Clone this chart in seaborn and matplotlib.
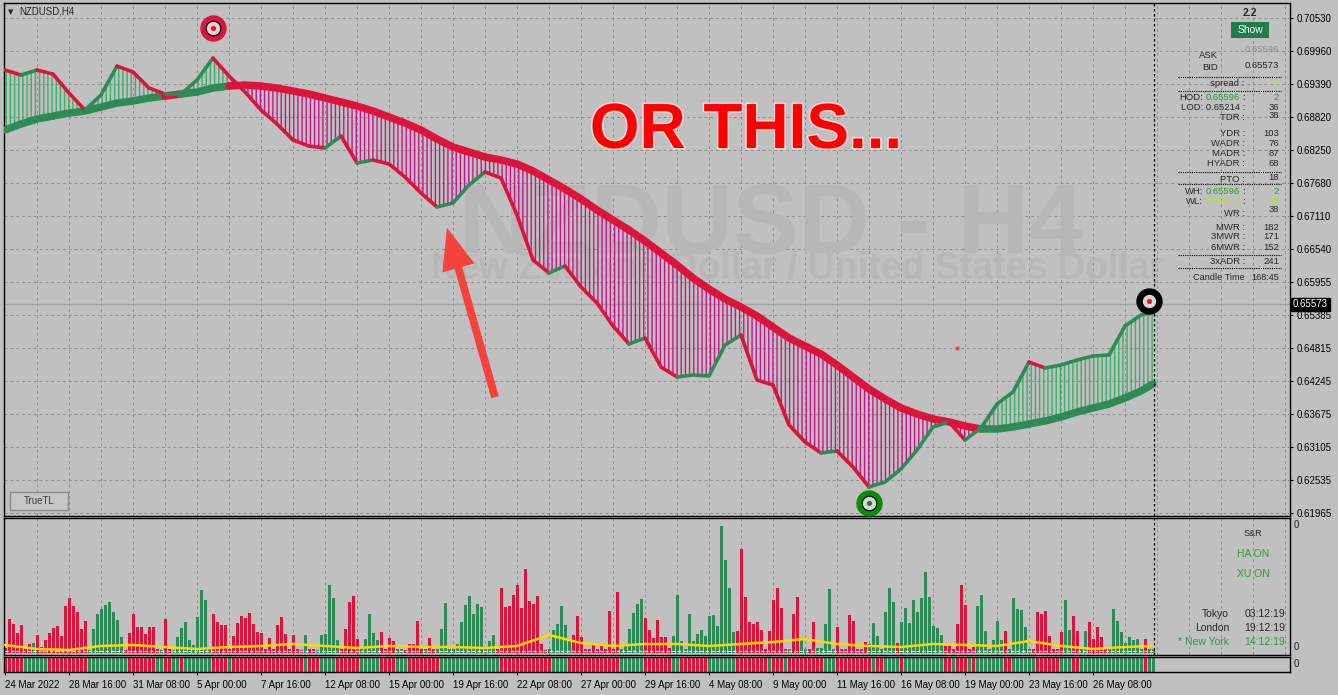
import numpy as np
import pandas as pd
import matplotlib
matplotlib.use("Agg")
import matplotlib.pyplot as plt
import matplotlib.patheffects as pe
from matplotlib.patches import Rectangle
from matplotlib.lines import Line2D
import seaborn as sns

# ---------------- data ----------------
symbol = "NZDUSD,H4"
bid = 0.65573

date_labels = ["24 Mar 2022", "28 Mar 16:00", "31 Mar 08:00", "5 Apr 00:00", "7 Apr 16:00",
               "12 Apr 08:00", "15 Apr 00:00", "19 Apr 16:00", "22 Apr 08:00", "27 Apr 00:00",
               "29 Apr 16:00", "4 May 08:00", "9 May 00:00", "11 May 16:00", "16 May 08:00",
               "19 May 00:00", "23 May 16:00", "26 May 08:00"]
date_bars = [0, 16, 32, 48, 64, 80, 96, 112, 128, 144, 160, 176, 192, 208, 224, 240, 256, 272]

price_ticks = [0.70530, 0.69960, 0.69390, 0.68820, 0.68250, 0.67680, 0.67110, 0.66540,
               0.65955, 0.65385, 0.64815, 0.64245, 0.63675, 0.63105, 0.62535, 0.61965]

# bar index of the line samples
line_bar = list(range(0, 288, 4)) + [287]

# fast (smoothed) line
fast = [0.69630, 0.69544, 0.69630, 0.69561, 0.69232, 0.68938, 0.69198, 0.69699, 0.69596, 0.69319,
        0.69215, 0.69215, 0.69457, 0.69838, 0.69526, 0.69250, 0.68938, 0.68696, 0.68419, 0.68315,
        0.68281, 0.68488, 0.68021, 0.68073, 0.68004, 0.67779, 0.67502, 0.67260, 0.67329, 0.67640,
        0.67865, 0.67762, 0.67121, 0.66343, 0.66118, 0.66239, 0.65876, 0.65599, 0.65201, 0.64889,
        0.64993, 0.64491, 0.64318, 0.64353, 0.64336, 0.64872, 0.65045, 0.64266, 0.64180, 0.63488,
        0.63194, 0.63003, 0.63038, 0.62761, 0.62415, 0.62501, 0.62726, 0.63055, 0.63453, 0.63540,
        0.63228, 0.63436, 0.63851, 0.64059, 0.64578, 0.64474, 0.64526, 0.64612, 0.64682, 0.64699,
        0.65201, 0.65391, 0.65443]
fast_col = ("rgrrrggrrr" "gggrrrrrrr" "grgrrrrggg" "rrrrgrrrrg" "rrggggrrrr"
            "rgrrgggggr" "ggggrggggg" "gg")

# slow (trend) line
slow = [0.68592, 0.68696, 0.68782, 0.68834, 0.68886, 0.68921, 0.68990, 0.69059, 0.69094, 0.69146,
        0.69180, 0.69215, 0.69250, 0.69319, 0.69353, 0.69371, 0.69353, 0.69319, 0.69267, 0.69215,
        0.69146, 0.69077, 0.69007, 0.68921, 0.68817, 0.68713, 0.68592, 0.68436, 0.68298, 0.68211,
        0.68125, 0.68073, 0.68004, 0.67883, 0.67727, 0.67571, 0.67398, 0.67208, 0.67035, 0.66862,
        0.66671, 0.66464, 0.66256, 0.66031, 0.65841, 0.65668, 0.65529, 0.65374, 0.65183, 0.64993,
        0.64855, 0.64716, 0.64526, 0.64318, 0.64111, 0.63938, 0.63782, 0.63678, 0.63592, 0.63540,
        0.63470, 0.63419, 0.63419, 0.63453, 0.63505, 0.63557, 0.63626, 0.63713, 0.63782, 0.63851,
        0.63955, 0.64076, 0.64197]
slow_col = ("gggggggggg" "rgggrrrrrr" "rrrrrrrrrr" "rrrrrrrrrr" "rrrrrrrrrr"
            "rrrrrrrrrr" "rggggggggg" "gg")

# signals
sig_bar = [52, 216, 286]
sig_price = [0.7036, 0.6214, 0.6563]
sig_ring = ["#dc143c", "#0a8a0a", "#000000"]
sig_dot = ["#ff1010", "#0a8a0a", "#ff1010"]
dot_bar, dot_price = 238, 0.6482

# volume histogram
volume = [5, 34, 29, 20, 28, 5, 9, 10, 18, 6,
          13, 20, 25, 27, 17, 47, 55, 47, 41, 24,
          32, 3, 24, 39, 44, 48, 51, 41, 33, 16,
          3, 20, 39, 26, 26, 19, 26, 26, 4, 3,
          34, 4, 3, 16, 25, 31, 13, 8, 36, 63,
          53, 4, 39, 31, 28, 28, 4, 17, 30, 37,
          35, 40, 29, 21, 20, 4, 15, 4, 28, 36,
          19, 4, 18, 4, 3, 18, 4, 4, 3, 18,
          19, 68, 55, 13, 4, 24, 51, 57, 14, 4,
          14, 39, 20, 13, 21, 4, 15, 12, 4, 4,
          3, 9, 9, 32, 4, 4, 15, 4, 4, 24,
          50, 4, 4, 9, 31, 48, 57, 39, 49, 46,
          4, 12, 18, 4, 65, 46, 47, 58, 68, 45,
          84, 52, 49, 57, 9, 3, 4, 23, 29, 47,
          28, 13, 18, 37, 16, 4, 4, 9, 4, 9,
          4, 42, 4, 61, 4, 9, 24, 40, 49, 54,
          35, 23, 15, 33, 16, 16, 5, 17, 58, 12,
          4, 39, 12, 19, 23, 17, 37, 38, 27, 127,
          93, 65, 21, 22, 104, 56, 31, 29, 31, 23,
          4, 22, 53, 65, 45, 4, 4, 39, 56, 15,
          4, 4, 31, 5, 5, 29, 64, 4, 26, 4,
          4, 38, 32, 4, 4, 11, 9, 30, 17, 4,
          41, 65, 51, 10, 31, 45, 30, 53, 41, 55,
          81, 56, 27, 25, 18, 7, 7, 4, 29, 68,
          48, 4, 6, 47, 58, 22, 4, 13, 32, 13,
          22, 4, 55, 44, 43, 26, 4, 4, 41, 39,
          42, 17, 4, 4, 21, 53, 23, 37, 22, 4,
          22, 31, 14, 26, 16, 4, 4, 44, 32, 21,
          10, 16, 13, 14, 4, 14, 4, 4]
vol_dir = ("rrrrrrrgrr" "rrrrrrrrrr" "rggggggggg" "rrrrrrrrrg" "rrgggggggg"
           "ggrrrrrrrr" "rrrrrrrrrr" "rrrrrgrrgg" "ggggrrrrrg" "ggggrrrrgg"
           "rrrrrgrrgg" "gggggggggg" "gggrrrrrrr" "rrrrrrgggg" "ggrrrrrrrr"
           "rrrrgggggg" "rrrrrrrggg" "gggggggggg" "gggrrrrrrr" "rrrrrrgrrg"
           "grrgggggrr" "rrrrrrgggg" "gggrgggggg" "gggggrrrrr" "rrrggggggg"
           "rggggggrrr" "rrrrrggrrg" "grrrrrgggg" "gggggrgg")

# yellow average line on the histogram
yel_bar = list(range(0, 288, 8)) + [287]
yel_val = [8, 4, 3, 7, 8, 6, 4, 6, 7, 9, 7, 5, 7, 6, 6, 5, 7, 18, 10, 7,
           9, 9, 7, 9, 11, 14, 9, 7, 6, 9, 8, 7, 12, 7, 4, 6, 7]
vol_floor = 2

# colour strip (run lengths)
strip_runs = [("r", 5), ("g", 6), ("r", 10), ("g", 10), ("r", 7), ("g", 2), ("r", 2), ("g", 2),
              ("r", 1), ("g", 7), ("r", 4), ("g", 1), ("r", 18), ("g", 1), ("r", 3), ("g", 4),
              ("r", 6), ("g", 5), ("r", 4), ("g", 3), ("r", 8), ("g", 15), ("r", 13), ("g", 4),
              ("r", 13), ("g", 6), ("r", 7), ("g", 2), ("r", 7), ("g", 7), ("r", 8), ("g", 1),
              ("r", 3), ("g", 1), ("r", 9), ("g", 3), ("r", 9), ("g", 1), ("r", 2), ("g", 4),
              ("r", 1), ("g", 10), ("r", 2), ("g", 1), ("r", 3), ("g", 1), ("r", 1), ("g", 7),
              ("r", 2), ("g", 6), ("r", 6), ("g", 3), ("r", 2), ("g", 16), ("r", 1), ("g", 2)]

# ---------------- style ----------------
W, H = 1338, 695
BG = "#c0c0c0"
RED = "#dc143c"
GREEN = "#2e8b57"
FILL_UP = "#3fae6a"
FILL_DN = "#c0168a"
GRID = "#8e8e8e"
TXT_GREEN = "#2f9a3a"

sns.set_style("white", {"axes.facecolor": BG, "figure.facecolor": BG, "axes.edgecolor": "black"})
plt.rcParams["font.family"] = ["Liberation Sans", "DejaVu Sans"]
plt.rcParams["font.size"] = 7
plt.rcParams["hatch.linewidth"] = 1.0

fig = plt.figure(figsize=(W / 100, H / 100), dpi=100)
fig.patch.set_facecolor(BG)


def box(top, bottom, left=4, right=1290):
    return [left / W, 1 - bottom / H, (right - left) / W, (bottom - top) / H]


def ftxt(px, py, s, **kw):
    kw.setdefault("va", "center")
    kw.setdefault("fontsize", 6.8)
    return fig.text(px / W, 1 - py / H, s, **kw)


ax = fig.add_axes(box(3, 516))
axv = fig.add_axes(box(518, 655))
axs = fig.add_axes(box(657, 672))
for a in (ax, axv, axs):
    a.set_facecolor(BG)
    for sp in a.spines.values():
        sp.set_color("black")
        sp.set_linewidth(1.0)
        sp.set_visible(True)

n_bars = len(volume)
last_bar = n_bars - 1
xmin, xmax = -0.25, 321.25

# ---------------- main price panel ----------------
ax.set_xlim(xmin, xmax)
ax.set_ylim(0.61913, 0.70790)
for b in range(8, 322, 8):
    for a in (ax, axv):
        a.axvline(b, color=GRID, lw=0.7, ls=(0, (3, 3)), zorder=0)
for p in price_ticks:
    ax.axhline(p, color=GRID, lw=0.7, ls=(0, (3, 3)), zorder=0)
ax.axhline(bid, color="#a2a2a2", lw=1.0, zorder=0.2)

ax.yaxis.tick_right()
ax.set_yticks(price_ticks, [f"{p:.5f}" for p in price_ticks])
ax.tick_params(axis="y", length=2.5, width=0.8, pad=2.5, labelsize=7, colors="black")
ax.set_xticks([])

# watermark
ax.text(0.597, 0.512, "NZDUSD - H4", transform=ax.transAxes, ha="center", va="baseline",
        fontsize=71, fontweight="bold", family="Liberation Sans", color="#b7b7b7", zorder=0.5)
ax.text(0.617, 0.462, "New Zealand Dollar / United States Dollar", transform=ax.transAxes,
        ha="center", va="baseline", fontsize=27, fontweight="bold", family="Liberation Sans",
        color="#b7b7b7", zorder=0.5)

xb = np.array(line_bar, dtype=float)
f = np.array(fast)
s = np.array(slow)
ax.fill_between(xb, f, s, where=f >= s, interpolate=True, facecolor="none",
                edgecolor=FILL_UP, hatch="||||", linewidth=0, zorder=1)
ax.fill_between(xb, f, s, where=f < s, interpolate=True, facecolor="none",
                edgecolor=FILL_DN, hatch="||||", linewidth=0, zorder=1)

cmap = {"r": RED, "g": GREEN}


def draw_runs(ys, cols, lw, z):
    start = 0
    for k in range(1, len(cols) + 1):
        if k == len(cols) or cols[k] != cols[start]:
            ax.plot(xb[start:k + 1], ys[start:k + 1], color=cmap[cols[start]], lw=lw,
                    solid_capstyle="round", solid_joinstyle="round", zorder=z)
            start = k


draw_runs(s, slow_col, 5.4, 3)
draw_runs(f, fast_col, 2.6, 4)

# signal targets
for b, p, rc, dc in zip(sig_bar, sig_price, sig_ring, sig_dot):
    ax.scatter([b], [p], s=360, color=rc, zorder=6, linewidths=0)
    ax.scatter([b], [p], s=110, color="#d6d6d6", edgecolors="black", linewidths=0.8, zorder=7)
    ax.scatter([b], [p], s=14, color=dc, zorder=8, linewidths=0)
ax.scatter([dot_bar], [dot_price], s=9, color="#ff3b3b", zorder=6, linewidths=0)

# annotation arrow
ax.annotate("", xy=(110.5, 0.6690), xytext=(122.5, 0.6397),
            arrowprops=dict(arrowstyle="simple,head_length=1.5,head_width=1.2,tail_width=0.28",
                            mutation_scale=20, color="#f4433a", lw=0, shrinkA=0, shrinkB=0),
            zorder=9)

# big caption
ftxt(746, 148, "OR THIS...", ha="center", va="baseline", fontsize=46, fontweight="bold",
     family="Liberation Sans", color="#ff0000",
     path_effects=[pe.withStroke(linewidth=2.2, foreground="#ffd6d6")], zorder=10)

# current price box
ax.annotate(f"{bid:.5f}", xy=(1.0, bid), xycoords=("axes fraction", "data"),
            xytext=(2.0, 0), textcoords="offset points", ha="left", va="center",
            fontsize=7, color="white",
            bbox=dict(boxstyle="square,pad=0.18", facecolor="black", edgecolor="black"),
            annotation_clip=False, zorder=10)

# symbol label
ftxt(11, 12, "\u25bc", ha="center", fontsize=5, family="DejaVu Sans")
ftxt(19, 12, symbol, ha="left", fontsize=7)

# TrueTL button
fig.add_artist(Rectangle((10 / W, 1 - 510 / H), 58 / W, 18 / H, transform=fig.transFigure,
                         facecolor="#c6c6c6", edgecolor="#8a8a8a", lw=1))
ftxt(39, 501, "TrueTL", ha="center", color="#3a3a3a", fontsize=7)

# info panel
ftxt(1250, 13, "2.2", ha="center", fontsize=7.5, fontweight="bold")
fig.add_artist(Rectangle((1231 / W, 1 - 38 / H), 38 / W, 16 / H, transform=fig.transFigure,
                         facecolor="#1f7c4c", edgecolor="none"))
ftxt(1250, 30, "Show", ha="center", color="white", fontsize=7.5)

ftxt(1218, 55, "ASK", ha="right")
ftxt(1279, 50, "0.65596", ha="right", color="#8c8c8c")
ftxt(1218, 68, "BID", ha="right")
ftxt(1279, 65, "0.65573", ha="right")
for yy in (77, 91, 172, 184, 255, 268):
    fig.add_artist(Line2D([1178 / W, 1281 / W], [1 - yy / H] * 2, color="black", lw=0.8,
                          ls=(0, (1, 1)), transform=fig.transFigure))
ftxt(1244, 83, "spread :", ha="right")
ftxt(1279, 83, "2.3", ha="right", color="#b4f03a")
ftxt(1203, 98, "HOD:", ha="right")
ftxt(1240, 98, "0.65596", ha="right", color=TXT_GREEN)
ftxt(1245, 98, ":", ha="right")
ftxt(1279, 98, "2", ha="right", color=TXT_GREEN)
ftxt(1245, 107, "LOD: 0.65214 :", ha="right")
ftxt(1279, 107, "36", ha="right")
rows = [("TDR :", 118, "38", 115), ("YDR :", 133, "103", 133), ("WADR :", 143, "76", 143),
        ("MADR :", 154, "87", 154), ("HYADR :", 164, "68", 164), ("PTO :", 179, "18", 178),
        ("WR :", 213, "38", 210), ("MWR :", 227, "182", 227), ("3MWR :", 237, "171", 237),
        ("6MWR :", 247, "152", 247), ("3xADR :", 261, "241", 261)]
for lab, ly, val, vy in rows:
    ftxt(1245, ly, lab, ha="right")
    ftxt(1279, vy, val, ha="right")
ftxt(1203, 192, "WH:", ha="right")
ftxt(1240, 192, "0.65596", ha="right", color=TXT_GREEN)
ftxt(1245, 192, ":", ha="right")
ftxt(1279, 191, "2", ha="right", color=TXT_GREEN)
ftxt(1203, 202, "WL:", ha="right")
ftxt(1240, 202, "0.65214", ha="right", color="#a6ea2e")
ftxt(1245, 202, ":", ha="right")
ftxt(1279, 201, "36", ha="right", color="#a6ea2e")
ftxt(1193, 278, "Candle Time", ha="left", fontsize=6.6)
ftxt(1279, 278, "168:45", ha="right", fontsize=6.6)

# ---------------- volume histogram ----------------
vol_df = pd.DataFrame({"bar": np.arange(n_bars), "vol": volume, "dir": list(vol_dir)})
sns.barplot(data=vol_df, x="bar", y="vol", hue="dir", palette=cmap, native_scale=True,
            dodge=False, width=0.75, saturation=1, errorbar=None, legend=False,
            linewidth=0, ax=axv, zorder=2)
axv.hlines(vol_floor, 0, last_bar, colors="white", lw=0.8, linestyles=(0, (3, 2)), zorder=3)
sns.lineplot(x=yel_bar, y=yel_val, color="#ffd700", lw=1.8, ax=axv, zorder=4)
axv.set_xlim(xmin, xmax)
axv.set_ylim(-2, 135)
axv.set_xticks([])
axv.set_yticks([])
axv.set_xlabel("")
axv.set_ylabel("")

for a in (ax, axv):
    a.axvline(last_bar + 0.25, color="black", lw=0.9, ls=(0, (2, 2)), zorder=5)

ftxt(1294, 525, "0", ha="left", fontsize=7)
ftxt(1294, 647, "0", ha="left", fontsize=7)
ftxt(1253, 533, "S&R", ha="center", fontsize=6.5)
ftxt(1253, 554, "HA ON", ha="center", color=TXT_GREEN, fontsize=7.5)
ftxt(1253, 574, "XU ON", ha="center", color=TXT_GREEN, fontsize=7.5)
ftxt(1229, 614, "Tokyo", ha="right", fontsize=7.5)
ftxt(1285, 614, "03:12:19", ha="right", fontsize=7.5)
ftxt(1229, 628, "London", ha="right", fontsize=7.5)
ftxt(1285, 628, "19:12:19", ha="right", fontsize=7.5)
ftxt(1229, 642, "* New York", ha="right", fontsize=7.5, color=TXT_GREEN)
ftxt(1285, 642, "14:12:19", ha="right", fontsize=7.5, color=TXT_GREEN)

# ---------------- colour strip ----------------
strip_dir = "".join(c * n for c, n in strip_runs)
strip_df = pd.DataFrame({"bar": np.arange(len(strip_dir)), "one": 1, "dir": list(strip_dir)})
sns.barplot(data=strip_df, x="bar", y="one", hue="dir", palette=cmap, native_scale=True,
            dodge=False, width=0.75, saturation=1, errorbar=None, legend=False,
            linewidth=0, ax=axs)
axs.set_xlim(xmin, xmax)
axs.set_ylim(0, 1)
axs.set_yticks([])
axs.set_xlabel("")
axs.set_ylabel("")
axs.set_xticks(date_bars, date_labels)
for lbl in axs.get_xticklabels():
    lbl.set_horizontalalignment("left")
axs.tick_params(axis="x", length=2.5, width=0.8, pad=3, labelsize=7, colors="black",
                bottom=True, direction="out")
ftxt(1294, 664, "0", ha="left", fontsize=7)

fig.savefig("out.png", dpi=100, facecolor=BG)
